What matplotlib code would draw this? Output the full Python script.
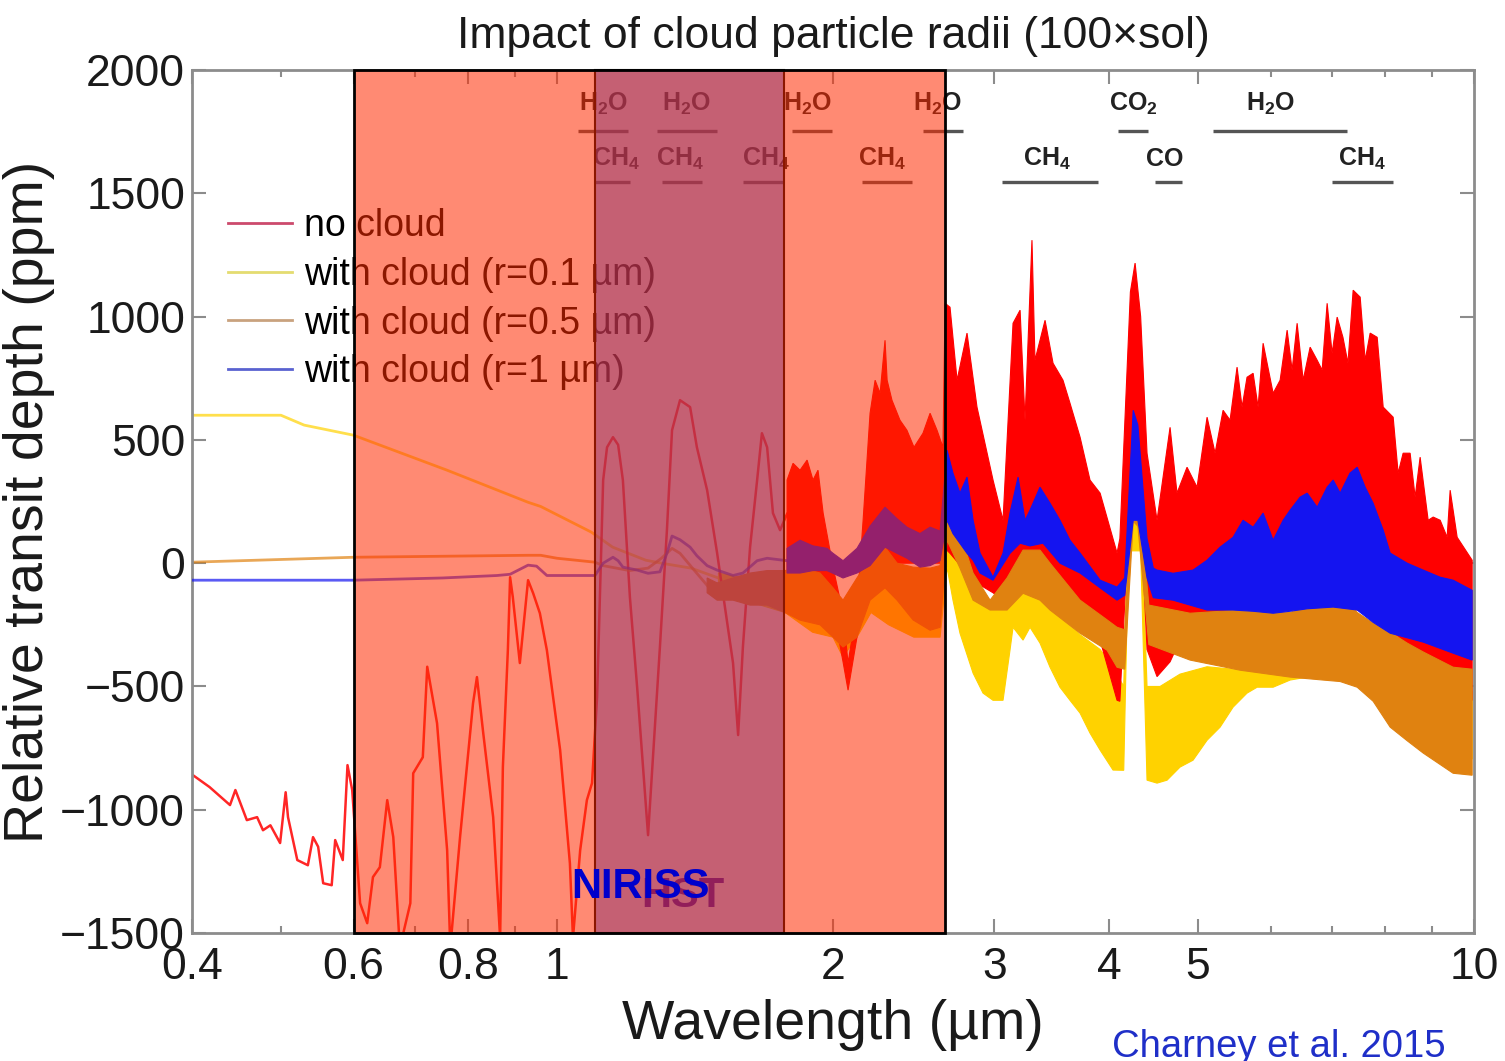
import matplotlib
matplotlib.use("Agg")
import matplotlib.pyplot as plt
from matplotlib.lines import Line2D
from matplotlib.patches import Rectangle

plt.rcParams["font.family"] = ["Liberation Sans", "DejaVu Sans"]
plt.rcParams["mathtext.fontset"] = "custom"
plt.rcParams["mathtext.rm"] = "Liberation Sans:bold"
plt.rcParams["mathtext.bf"] = "Liberation Sans:bold"
plt.rcParams["mathtext.default"] = "rm"

# ---- no cloud: resolved part (um, ppm)
red_w = [0.401, 0.418, 0.440, 0.446, 0.459, 0.471, 0.478, 0.487, 0.499, 0.506,
         0.509, 0.521, 0.535, 0.542, 0.549, 0.556, 0.568, 0.573, 0.584, 0.591,
         0.598, 0.610, 0.621, 0.630, 0.641, 0.653, 0.663, 0.674, 0.692, 0.697,
         0.714, 0.722, 0.740, 0.759, 0.765, 0.784, 0.810, 0.818, 0.831, 0.852,
         0.867, 0.873, 0.884, 0.889, 0.895, 0.911, 0.930, 0.942, 0.958, 0.975,
         1.008, 1.033, 1.041, 1.060, 1.078, 1.092, 1.106, 1.123, 1.134, 1.151,
         1.166, 1.180, 1.201, 1.223, 1.257, 1.295, 1.318, 1.335, 1.362, 1.397,
         1.421, 1.458, 1.495, 1.517, 1.556, 1.576, 1.595, 1.624, 1.653, 1.673,
         1.695, 1.720, 1.751, 1.782]
red_v = [-860, -908, -981, -920, -1042, -1030, -1083, -1063, -1135, -929,
         -1030, -1204, -1225, -1111, -1150, -1298, -1306, -1123, -1204, -819,
         -920, -1379, -1460, -1273, -1233, -961, -1111, -1560, -1379, -852,
         -787, -420, -649, -1164, -1560, -1111, -568, -462, -689, -1030,
         -1520, -827, -353, -57, -137, -405, -69, -122, -203, -353,
         -758, -1217, -1520, -1164, -961, -892, -543, 337, 470, 511,
         480, 337, -138, -503, -1103, -340, 134, 539, 661, 633,
         470, 296, 41, -122, -405, -697, -340, 65, 337, 527,
         470, 203, 134, 200]

# ---- no cloud: dense spectral band, upper and lower edges
red_up_w = [1.782, 1.809, 1.841, 1.874, 1.902, 1.926, 1.951, 2.000, 2.051, 2.077,
            2.124, 2.157, 2.195, 2.223, 2.251, 2.279, 2.291, 2.319, 2.366, 2.408,
            2.451, 2.507, 2.552, 2.597, 2.636, 2.650, 2.683, 2.731, 2.800, 2.871,
            2.989, 3.065, 3.143, 3.199, 3.239, 3.296, 3.321, 3.406, 3.475, 3.563,
            3.626, 3.719, 3.813, 3.911, 4.081, 4.110, 4.220, 4.270, 4.330, 4.400,
            4.512, 4.662, 4.744, 4.865, 4.989, 5.116, 5.220, 5.326, 5.420, 5.516,
            5.586, 5.656, 5.743, 5.815, 5.889, 6.039, 6.146, 6.255, 6.334, 6.414,
            6.512, 6.627, 6.745, 6.830, 6.916, 7.003, 7.092, 7.196, 7.287, 7.383,
            7.514, 7.609, 7.705, 7.842, 7.961, 8.163, 8.266, 8.370, 8.518, 8.626,
            8.735, 8.913, 9.026, 9.186, 9.348, 9.419, 9.586, 9.954]
red_up_v = [337, 405, 377, 418, 337, 377, 203, -16, -203, -405,
            -178, 174, 608, 742, 689, 904, 742, 661, 580, 539,
            470, 527, 608, 539, 470, 1054, 1038, 742, 933, 633,
            337, 174, 973, 1026, 580, 1310, 823, 985, 811, 742,
            649, 511, 337, 284, 41, 100, 1100, 1217, 1000, 446,
            174, 551, 284, 389, 308, 592, 446, 620, 580, 795,
            633, 754, 770, 633, 892, 689, 742, 945, 783, 973,
            742, 876, 823, 783, 1054, 851, 998, 916, 811, 1107,
            1079, 823, 933, 916, 633, 592, 365, 446, 446, 268,
            430, 174, 187, 174, 105, 296, 105, 12]
red_lo_w = [1.782, 1.902, 1.970, 2.000, 2.051, 2.077, 2.124, 2.157, 2.251, 2.617,
            2.650, 2.683, 2.800, 2.871, 2.989, 3.065, 3.143, 3.296, 3.406, 3.563,
            3.719, 3.911, 4.081, 4.110, 4.220, 4.270, 4.330, 4.400, 4.512, 4.662,
            4.865, 5.116, 5.516, 6.039, 7.003, 7.705, 8.163, 8.455, 8.802, 9.026,
            9.419, 9.954]
red_lo_v = [-60, -60, -100, -180, -400, -515, -300, -80, 0, 0,
            60, 40, -40, -81, -120, -150, -60, -60, -80, -150,
            -200, -312, -556, -560, 300, 350, 200, -350, -460, -400,
            -250, -200, -200, -180, -170, -200, -280, -330, -420, -470,
            -530, -556]

# ---- with cloud r=0.1 um
yel_w = [0.400, 0.500, 0.530, 0.600, 0.759, 0.930, 0.960, 1.090, 1.150, 1.250,
         1.300, 1.400, 1.500]
yel_v = [600, 600, 560, 519, 377, 247, 230, 126, 65, 12,
         0, -20, -60]
yel_up_w = [1.500, 1.600, 1.773, 1.900, 2.000, 2.050, 2.124, 2.200, 2.300, 2.450,
            2.617, 2.663, 2.751, 2.871, 3.042, 3.143, 3.255, 3.449, 3.719, 3.911,
            4.040, 4.150, 4.200, 4.330, 4.400, 4.546, 4.780, 5.116, 5.461, 5.801,
            6.302, 7.146, 7.763, 8.455, 9.419, 9.954]
yel_up_v = [-40, -60, -80, -100, -150, -200, -100, -40, -60, -80,
            -60, 200, 122, -100, -190, -100, -80, -180, -290, -350,
            -420, -500, 250, 250, -500, -500, -450, -420, -430, -440,
            -430, -420, -400, -420, -500, -520]
yel_lo_w = [1.500, 1.600, 1.773, 1.900, 2.000, 2.050, 2.124, 2.200, 2.300, 2.450,
            2.617, 2.663, 2.703, 2.751, 2.843, 2.915, 2.989, 3.065, 3.119, 3.143,
            3.223, 3.280, 3.363, 3.449, 3.536, 3.626, 3.719, 3.813, 3.911, 4.040,
            4.150, 4.200, 4.330, 4.400, 4.512, 4.627, 4.780, 4.939, 5.116, 5.286,
            5.461, 5.656, 5.801, 6.039, 6.302, 6.578, 7.146, 7.763, 8.102, 8.455,
            8.802, 9.419, 9.954]
yel_lo_v = [-100, -150, -200, -280, -300, -380, -300, -200, -250, -300,
            -300, -16, -150, -284, -446, -527, -556, -556, -353, -260,
            -312, -260, -324, -422, -503, -556, -608, -689, -758, -839,
            -840, 50, 50, -880, -892, -880, -827, -799, -718, -665,
            -584, -527, -503, -503, -474, -462, -462, -515, -584, -624,
            -689, -770, -794]

# ---- with cloud r=0.5 um
org_w = [0.400, 0.600, 0.930, 0.960, 1.000, 1.100, 1.123, 1.200, 1.257, 1.300,
         1.335, 1.362, 1.420, 1.458]
org_v = [4, 24, 32, 32, 20, 4, -10, -30, -20, 20,
         60, 40, -40, -90]
org_band_w = [1.458, 1.495, 1.556, 1.624, 1.695, 1.773, 1.841, 1.936, 2.000, 2.051,
              2.124, 2.195, 2.279, 2.349, 2.445, 2.552, 2.617, 2.663, 2.751, 2.843,
              2.967, 3.096, 3.223, 3.363, 3.449, 3.719, 3.980, 4.081, 4.160, 4.250,
              4.300, 4.420, 4.902, 5.558, 6.302, 6.847, 7.146, 7.458, 7.763, 8.102,
              8.455, 8.802, 9.490, 9.954]
org_lo_v = [-120, -150, -150, -170, -170, -200, -231, -250, -300, -340,
            -300, -150, -100, -150, -230, -272, -260, 93, -20, -150,
            -190, -190, -122, -150, -190, -284, -353, -422, -430, 170,
            150, -330, -393, -434, -462, -474, -480, -503, -560, -665,
            -720, -770, -852, -860]
org_up_v = [-60, -80, -60, -40, -30, -30, -16, -40, -100, -150,
            -60, 20, 65, 0, -16, -20, -10, 227, 122, -40,
            -150, -60, 53, 53, 0, -150, -230, -260, -270, 389,
            330, -170, -203, -190, -200, -150, -122, -200, -243, -280,
            -324, -360, -422, -430]

# ---- with cloud r=1 um
blu_w = [0.400, 0.600, 0.750, 0.860, 0.889, 0.930, 0.950, 0.975, 1.100, 1.123,
         1.151, 1.166, 1.180, 1.223, 1.257, 1.295, 1.318, 1.335, 1.362, 1.397,
         1.421, 1.458, 1.495, 1.556, 1.595, 1.653, 1.695, 1.782]
blu_v = [-69, -69, -60, -50, -45, -8, -12, -50, -50, 0,
         24, 10, -16, -28, -41, -35, 40, 110, 95, 65,
         30, -10, -28, -50, -40, 10, 20, 10]
blu_up_w = [1.782, 1.841, 1.902, 1.970, 2.000, 2.051, 2.124, 2.195, 2.279, 2.349,
            2.408, 2.488, 2.552, 2.617, 2.663, 2.703, 2.751, 2.800, 2.843, 2.893,
            2.989, 3.065, 3.119, 3.183, 3.239, 3.280, 3.363, 3.449, 3.536, 3.626,
            3.719, 3.911, 4.081, 4.160, 4.250, 4.300, 4.400, 4.470, 4.512, 4.697,
            4.939, 5.116, 5.286, 5.461, 5.600, 5.743, 5.889, 6.039, 6.193, 6.302,
            6.463, 6.578, 6.745, 6.916, 7.021, 7.146, 7.324, 7.458, 7.609, 7.763,
            7.961, 8.102, 8.455, 8.802, 9.186, 9.490, 9.954]
blu_up_v = [60, 93, 70, 60, 40, 10, 60, 150, 227, 180,
            146, 120, 146, 130, 458, 365, 284, 349, 174, 41,
            -57, 41, 203, 349, 174, 215, 308, 243, 174, 93,
            41, -69, -97, -60, 620, 560, 100, -20, -28, -41,
            -28, 12, 65, 105, 174, 146, 203, 93, 174, 215,
            268, 284, 227, 308, 337, 284, 365, 389, 308, 243,
            134, 41, 0, -28, -57, -69, -110]
blu_lo_w = [1.782, 1.841, 1.902, 1.970, 2.000, 2.051, 2.124, 2.195, 2.279, 2.349,
            2.408, 2.488, 2.552, 2.617, 2.663, 2.703, 2.800, 2.843, 2.893, 2.989,
            3.119, 3.199, 3.280, 3.389, 3.536, 3.719, 3.911, 4.081, 4.160, 4.250,
            4.300, 4.400, 4.470, 4.697, 5.116, 5.461, 5.743, 6.039, 6.302, 6.578,
            7.021, 7.458, 7.763, 8.102, 8.802, 9.490, 9.954]
blu_lo_v = [-40, -40, -30, -30, -41, -60, -40, -10, 65, 40,
            20, -16, -10, 10, 174, 120, 40, 12, -40, -69,
            40, 81, 70, 81, 0, -40, -100, -150, -130, 174,
            174, -60, -140, -150, -190, -190, -195, -203, -195, -185,
            -178, -190, -240, -284, -320, -365, -393]

legend_labels = ["no cloud", "with cloud (r=0.1 \u00b5m)",
                 "with cloud (r=0.5 \u00b5m)", "with cloud (r=1 \u00b5m)"]
legend_colors = ["#cc4a6c", "#e4dc70", "#c9a27e", "#5a62d0"]

# molecular band labels: text, x, row (0 top / 1 bottom), underline start, end
mol_text = ["H$_2$O", "H$_2$O", "H$_2$O", "H$_2$O", "CO$_2$", "H$_2$O",
            "CH$_4$", "CH$_4$", "CH$_4$", "CH$_4$", "CH$_4$", "CO", "CH$_4$"]
mol_x = [1.123, 1.383, 1.878, 2.603, 4.248, 5.994,
         1.160, 1.362, 1.690, 2.262, 3.423, 4.604, 7.552]
mol_row = [0, 0, 0, 0, 0, 0, 1, 1, 1, 1, 1, 1, 1]
mol_x0 = [1.054, 1.286, 1.804, 2.507, 4.091, 5.194,
          1.100, 1.302, 1.595, 2.151, 3.057, 4.490, 7.003]
mol_x1 = [1.195, 1.495, 1.995, 2.772, 4.412, 7.272,
          1.201, 1.440, 1.764, 2.439, 3.891, 4.804, 8.162]
row_base = [1835, 1610]
row_line = [1752, 1545]

xticks = [0.4, 0.6, 0.8, 1, 2, 3, 4, 5, 10]
xtick_labels = ["0.4", "0.6", "0.8", "1", "2", "3", "4", "5", "10"]
xminor = [0.5, 0.7, 0.9, 6, 7, 8, 9]
yticks = [-1500, -1000, -500, 0, 500, 1000, 1500, 2000]

RED = "#ff0000"
YEL = "#ffd200"
ORG = "#e08210"
BLU = "#1414f0"


def band(ax, up_w, up_v, lo_w, lo_v, color, z):
    """Fill the region between an upper and a lower spectral envelope."""
    xs = list(up_w) + list(lo_w)[::-1]
    ys = list(up_v) + list(lo_v)[::-1]
    ax.fill(xs, ys, color=color, lw=0.8, zorder=z)


fig = plt.figure(figsize=(15.05, 10.61), dpi=100)
ax = fig.add_axes([0.1276, 0.1206, 0.8518, 0.8134])
ax.set_xscale("log")

# spectra
band(ax, yel_up_w, yel_up_v, yel_lo_w, yel_lo_v, YEL, 2)
ax.plot(yel_w, yel_v, color=YEL, lw=2, alpha=0.7, zorder=2)
band(ax, red_up_w, red_up_v, red_lo_w, red_lo_v, RED, 2.2)
ax.plot(red_w, red_v, color=RED, lw=1.8, alpha=0.85, zorder=2.2)
band(ax, org_band_w, org_up_v, org_band_w, org_lo_v, ORG, 2.4)
ax.plot(org_w, org_v, color=ORG, lw=2, alpha=0.7, zorder=2.4)
band(ax, blu_up_w, blu_up_v, blu_lo_w, blu_lo_v, BLU, 2.6)
ax.plot(blu_w, blu_v, color=BLU, lw=2, alpha=0.7, zorder=2.6)

# molecule markers
for t, x, r, x0, x1 in zip(mol_text, mol_x, mol_row, mol_x0, mol_x1):
    ax.text(x, row_base[r], t, ha="center", va="baseline", fontsize=18,
            fontweight="bold", color="#222222", zorder=4)
    ax.plot([x0, x1], [row_line[r], row_line[r]], color="#555555", lw=2.4,
            solid_capstyle="butt", zorder=4)

handles = [Line2D([], [], color=c, lw=2) for c in legend_colors]
ax.legend(handles, legend_labels, loc="upper left", bbox_to_anchor=(0.028, 0.840),
          frameon=False, fontsize=27, handlelength=1.7, handletextpad=0.32,
          labelspacing=0.34, borderpad=0, borderaxespad=0)

# HST window (sits below the NIRISS window)
ax.add_patch(Rectangle((1.1, -1500), 1.77 - 1.1, 3500, facecolor=(0, 0.28, 1, 0.5),
                       edgecolor="black", lw=1.5, zorder=6, clip_on=False))
ax.text(1.372, -1395, "HST", ha="center", va="baseline", fontsize=30,
        fontweight="bold", color="#1010c8", zorder=6.5)

# NIRISS window
ax.add_patch(Rectangle((0.6, -1500), 2.65 - 0.6, 3500, facecolor=(1, 42 / 255, 0, 0.55),
                       edgecolor="none", zorder=7, clip_on=False))
ax.add_patch(Rectangle((0.6, -1500), 2.65 - 0.6, 3500, facecolor="none",
                       edgecolor="black", lw=2, zorder=7.5, clip_on=False))
ax.text(1.232, -1358, "NIRISS", ha="center", va="baseline", fontsize=30,
        fontweight="bold", color="#0000cc", zorder=8)

ax.set_xlim(0.4, 10)
ax.set_ylim(-1500, 2000)
ax.set_xticks(xticks)
ax.set_xticklabels(xtick_labels)
ax.set_xticks(xminor, minor=True)
ax.set_xticklabels([], minor=True)
ax.set_yticks(yticks)
ax.set_yticklabels([f"{v:d}".replace("-", "\u2212") for v in yticks])

for s in ax.spines.values():
    s.set_color("#8c8c8c")
    s.set_linewidth(2)
ax.tick_params(which="both", direction="in", top=True, right=True,
               color="#8c8c8c", width=1.5, labelsize=32, labelcolor="#1a1a1a")
ax.tick_params(which="major", length=10)
ax.tick_params(which="minor", length=5)
ax.tick_params(axis="x", pad=10)
ax.tick_params(axis="y", pad=5)

ax.set_title("Impact of cloud particle radii (100\u00d7sol)", fontsize=32, pad=16,
             color="#1a1a1a")
ax.set_xlabel("Wavelength (\u00b5m)", fontsize=40, labelpad=8, color="#1a1a1a")
ax.set_ylabel("Relative transit depth (ppm)", fontsize=40, labelpad=4, color="#1a1a1a")

fig.text(0.7389, 0.004, "Charney et al. 2015", fontsize=27.5, color="#1f2fc8",
         va="baseline")

fig.savefig("out.png", dpi=100)
